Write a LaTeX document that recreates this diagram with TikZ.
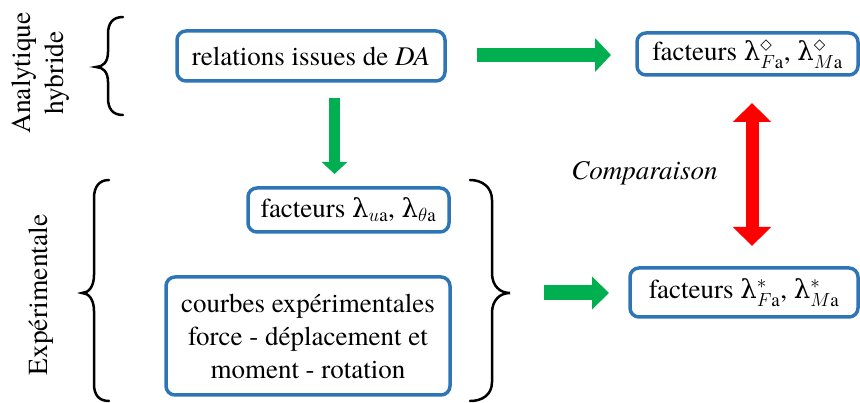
\documentclass[tikz,border=0pt]{standalone}
\usepackage{fix-cm}
\usepackage{amssymb}
\usepackage{fontspec}
\setmainfont{texgyretermes}[Extension=.otf, UprightFont=*-regular, ItalicFont=*-italic, BoldFont=*-bold, BoldItalicFont=*-bolditalic]
\newfontfamily\grk{DejaVu Serif}
\newfontfamily\symf{DejaVu Sans}
\DeclareMathSizes{27}{27}{19}{15}
\newcommand{\lam}{{\grk\fontsize{26}{33}\selectfont λ}}
\newcommand{\dmd}{\mbox{\symf\fontsize{15}{15}\selectfont ◇}}
\usetikzlibrary{arrows.meta}
\definecolor{boxblue}{HTML}{2E75B6}
\definecolor{okgreen}{HTML}{00B050}
\definecolor{cmpred}{HTML}{FF0000}
\begin{document}
\begin{tikzpicture}[x=1pt,y=-1pt,
  box/.style={draw=boxblue, line width=3.5pt, rounded corners=9pt, inner sep=0pt,
    font=\fontsize{27}{33}\selectfont, align=center},
  lbl/.style={font=\fontsize{27.5}{33}\selectfont, align=center, inner sep=0pt},
  bracepath/.style={draw=black, line width=2.5pt, line cap=round},
  garrow/.style={draw=okgreen, line width=#1}
]
\useasboundingbox (0,0) rectangle (860,403);

% boxes
\node[box, minimum width=268pt, minimum height=50pt] (A) at (311,56) {relations issues de \textit{DA}};
\node[box, minimum width=221pt, minimum height=42pt] (B) at (747.5,54) {facteurs \lam$^{\dmd}_{F\mathrm{a}}$, \lam$^{\dmd}_{M\mathrm{a}}$};
\node[box, minimum width=201pt, minimum height=44pt] (C) at (348.5,210) {facteurs \lam$_{u\mathrm{a}}$, \lam$_{\theta\mathrm{a}}$};
\node[box, minimum width=284pt, minimum height=118pt] (D) at (308,336) {courbes expérimentales\\force - déplacement et\\moment - rotation};
\node[box, minimum width=228pt, minimum height=49pt] (E) at (744,292.5) {facteurs \lam$^{*}_{F\mathrm{a}}$, \lam$^{*}_{M\mathrm{a}}$};

% labels
\node[lbl, rotate=90] (L1) at (41,73) {Analytique\\hybride};
\node[lbl, rotate=90] (L2) at (41,295) {Expérimentale};
\node[lbl, font=\fontsize{27}{33}\selectfont\itshape, anchor=base] (cmp) at (644.5,180) {Comparaison};

% arrow end points
\coordinate (a1s) at (477,55);  \coordinate (a1e) at (611,55);
\coordinate (a2s) at (334.5,98); \coordinate (a2e) at (334.5,174);
\coordinate (a3s) at (544,293); \coordinate (a3e) at (609,293);
\coordinate (r1) at (752,103);  \coordinate (r2) at (752,246);

\draw[garrow=14pt, -{Triangle[length=16pt,width=33pt]}] (a1s) -- (a1e);
\draw[garrow=11pt, -{Triangle[length=12pt,width=25pt]}] (a2s) -- (a2e);
\draw[garrow=15pt, -{Triangle[length=17pt,width=32pt]}] (a3s) -- (a3e);
\draw[draw=cmpred, line width=13pt, {Triangle[length=19pt,width=37pt]}-{Triangle[length=19pt,width=37pt]}] (r1) -- (r2);

% braces
\draw[bracepath] (123,17) .. controls (112,17) and (108,24) .. (108,34) -- (108,52)
  .. controls (108,62) and (103,67) .. (96,67)
  .. controls (103,67) and (108,72) .. (108,82) -- (108,98)
  .. controls (108,108) and (112,115) .. (123,115);
\draw[bracepath] (109,180) .. controls (99,180) and (94,187) .. (94,198) -- (94,275)
  .. controls (94,286) and (89,293) .. (82,293)
  .. controls (89,293) and (94,300) .. (94,311) -- (94,384)
  .. controls (94,395) and (99,401) .. (109,401);
\draw[bracepath] (470,180) .. controls (482,180) and (492,187) .. (492,200) -- (492,273)
  .. controls (492,286) and (500,293) .. (510,293)
  .. controls (500,293) and (492,300) .. (492,313) -- (492,382)
  .. controls (492,395) and (482,401) .. (470,401);
\end{tikzpicture}
\end{document}
